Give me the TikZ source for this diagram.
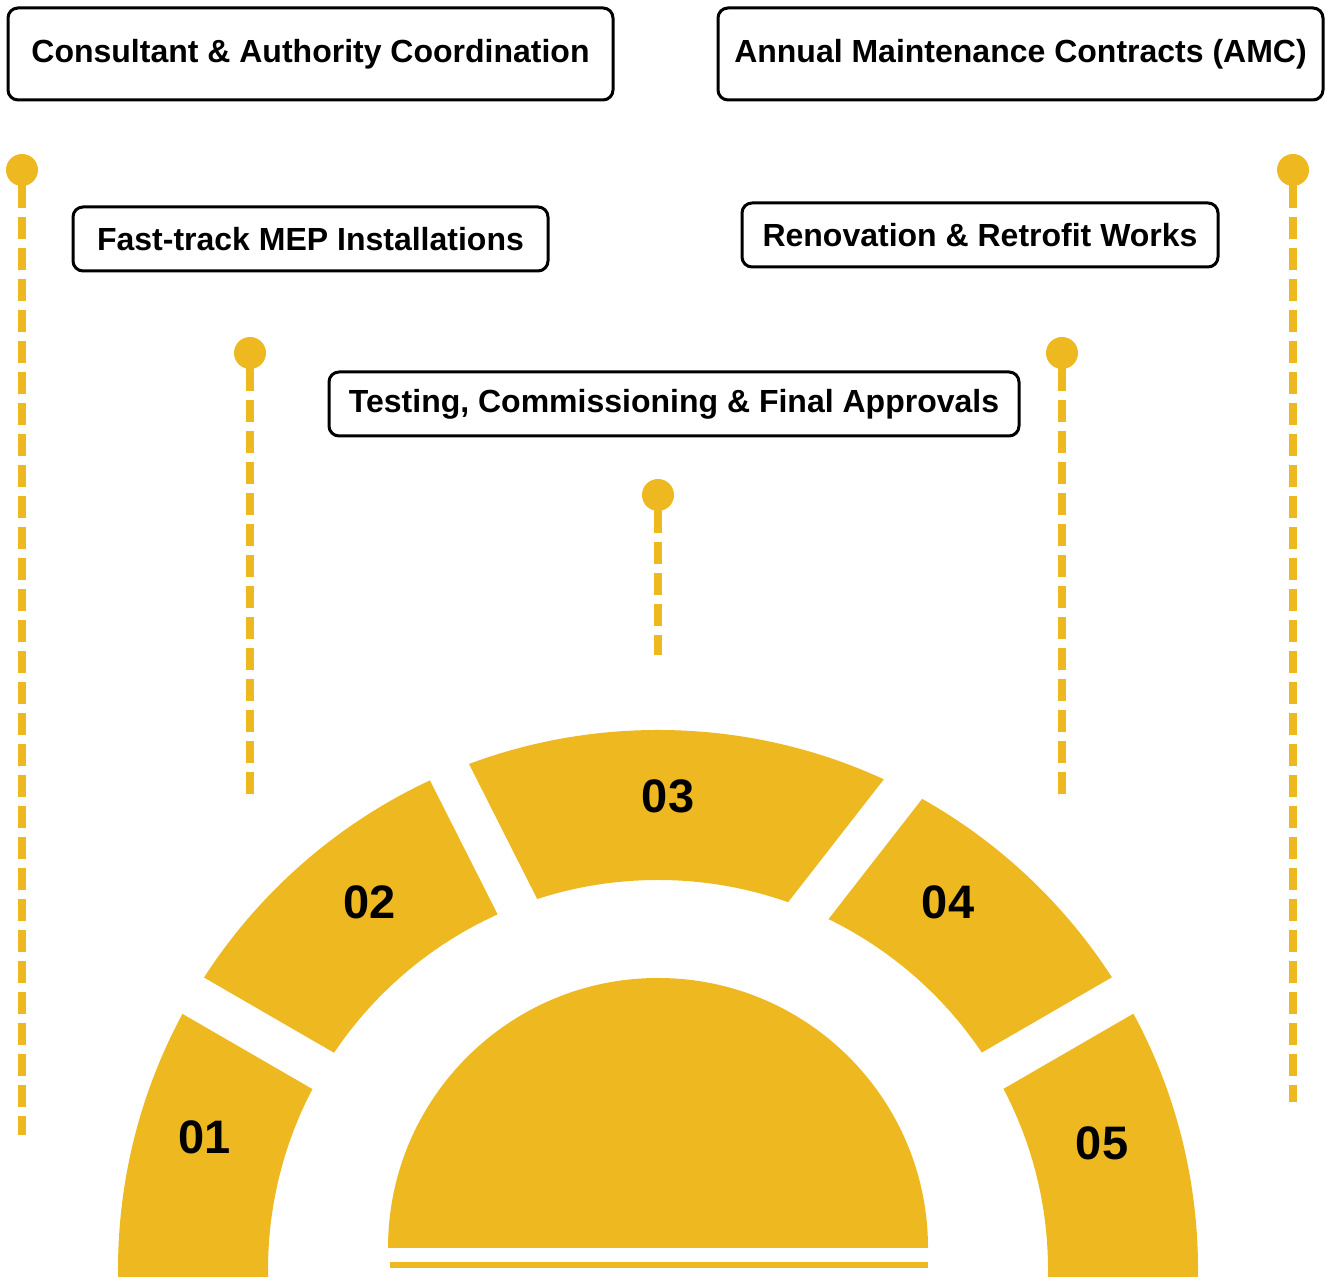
\documentclass[tikz,border=0pt]{standalone}
\usepackage{fontspec}
\setmainfont{Liberation Sans}
\usepackage{xcolor}
\usetikzlibrary{positioning}
\definecolor{mepyellow}{HTML}{EDB820}

\begin{document}
\begin{tikzpicture}[x=0.5pt, y=0.5pt,
                label box/.style={draw, line width=1.5pt, rounded corners=5pt, fill=white,
                                  font=\bfseries\fontsize{16}{19}\selectfont, inner sep=0pt},
                pin dot/.style={circle, fill=mepyellow, minimum size=16pt, inner sep=0pt},
                pin line/.style={mepyellow, line width=4pt, dash pattern=on 11pt off 4.5pt},
                step num/.style={font=\bfseries\fontsize{23.5}{28}\selectfont}]

      \useasboundingbox (0,0) rectangle (1326,1277);
      \clip (0,0) rectangle (1326,1277);

      % ring and half disc
      \fill[mepyellow, even odd rule] (658,7) circle (540) (658,7) circle (390);
      \foreach \xa/\ya/\xb/\yb in {61.5/357.5/453/131, 413/577/585.5/235.5,
                                   952.5/551.5/715/246.5, 1254/357.5/862.5/131}
          \draw[white, line width=21pt] (\xa,\ya) -- (\xb,\yb);
      \fill[mepyellow] (388,29) arc (180:0:270) -- cycle;
      \fill[mepyellow] (390,9) rectangle (928,15);

      \node[step num] (N1) at (205,140) {01};
      \node[step num] (N2) at (370,375) {02};
      \node[step num] (N3) at (668,481) {03};
      \node[step num] (N4) at (948,375) {04};
      \node[step num] (N5) at (1102,134) {05};

      % boxes
      \node[label box, minimum width=302.5pt, minimum height=46pt] (B1) at (310.5,1223) {Consultant \& Authority Coordination};
      \node[label box, minimum width=302.5pt, minimum height=46pt] (B5) at (1020.5,1223) {Annual Maintenance Contracts (AMC)};
      \node[label box, minimum width=237.5pt, minimum height=32pt] (B2) at (310.5,1038) {Fast-track MEP Installations};
      \node[label box, minimum width=238pt, minimum height=32pt] (B4) at (980,1042) {Renovation \& Retrofit Works};
      \node[label box, minimum width=345pt, minimum height=32pt] (B3) at (674,873) {Testing, Commissioning \& Final Approvals};

      % pins
      \node[pin dot] (P1) at (22,1107) {};
      \node[pin dot] (P2) at (250,924) {};
      \node[pin dot] (P3) at (658,782) {};
      \node[pin dot] (P4) at (1062,924) {};
      \node[pin dot] (P5) at (1293,1107) {};
      \coordinate (E1) at (22,142);
      \coordinate (E2) at (250,482);
      \coordinate (E3) at (658,622);
      \coordinate (E4) at (1062,482);
      \coordinate (E5) at (1293,175);
      \foreach \i in {1,...,5}
          \draw[pin line] (P\i.center) ++(0,-16) -- (E\i);
      \foreach \i in {1,...,5}
          \draw[mepyellow, line width=4pt] (P\i.center) -- ++(0,-38);
\end{tikzpicture}
\end{document}
